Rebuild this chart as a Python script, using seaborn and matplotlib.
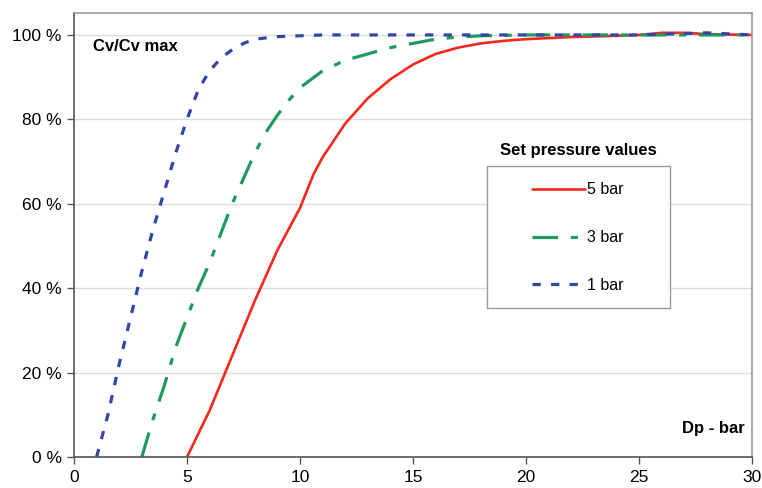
import numpy as np
import pandas as pd
import matplotlib
matplotlib.use('Agg')
import matplotlib.pyplot as plt
import seaborn as sns
from matplotlib.patches import Rectangle
from matplotlib.ticker import FuncFormatter

# Cv/Cv max (%) versus differential pressure Dp (bar)
dp_5bar = [5, 6, 7, 8, 9, 10, 10.3, 10.6, 11, 11.5, 12, 13, 14, 15, 16, 17, 18, 19, 20, 22, 24, 25, 26, 27, 28, 30]
cv_5bar = [0, 11, 24, 37, 49, 59, 63, 67, 71, 75, 79, 85, 89.5, 93, 95.5, 97, 98, 98.6, 99, 99.5, 99.8, 100, 100.5, 100.5, 100.2, 100]

dp_3bar = [3, 3.5, 4, 4.5, 5, 5.5, 6, 6.5, 7, 7.5, 8, 8.5, 9, 9.5, 10, 11, 12, 13, 14, 15, 16, 17, 18, 20, 25, 30]
cv_3bar = [0, 9, 17, 26, 33, 40, 46, 53, 60, 66, 72, 77, 81, 84.5, 87.5, 91.5, 94, 95.5, 97, 98, 99, 99.5, 99.8, 100, 100, 100]

dp_1bar = [1, 1.5, 2, 2.5, 3, 3.5, 4, 4.5, 5, 5.5, 6, 6.5, 7, 7.5, 8, 9, 10, 11, 15, 20, 25, 28, 30]
cv_1bar = [0, 10, 22, 33, 44, 54, 63, 72, 80, 87, 91.5, 94.5, 96.5, 98, 99, 99.6, 99.8, 100, 100, 100, 100, 100.5, 100]

series_labels = ['5 bar', '3 bar', '1 bar']
x_ticks = [0, 5, 10, 15, 20, 25, 30]
y_ticks = [0, 20, 40, 60, 80, 100]

sns.set_style('white')
plt.rcParams['font.family'] = ['Liberation Sans', 'DejaVu Sans']
plt.rcParams['text.color'] = 'black'

fig = plt.figure(figsize=(7.62, 4.88), dpi=100)
ax = fig.add_axes([74 / 762, 31 / 488, 678 / 762, 444 / 488])

styles = {
    '5 bar': dict(color='#F5281C', linestyle='-', lw=1.9),
    '3 bar': dict(color='#1F9A5E', dashes=(8, 4, 2.2, 4), lw=2.3),
    '1 bar': dict(color='#3345A5', dashes=(2.6, 3.2), lw=2.3),
}
for label, xs, ys in zip(series_labels, [dp_5bar, dp_3bar, dp_1bar], [cv_5bar, cv_3bar, cv_1bar]):
    df = pd.DataFrame({'Dp': xs, 'Cv': ys})
    sns.lineplot(data=df, x='Dp', y='Cv', ax=ax, label=label, **styles[label])

ax.set_xlim(0, 30)
ax.set_ylim(0, 105.2)
ax.set_xticks(x_ticks)
ax.set_yticks(y_ticks)
ax.yaxis.set_major_formatter(FuncFormatter(lambda v, p: f'{v:.0f} %'))
ax.set_xlabel('')
ax.set_ylabel('')
ax.grid(axis='y', color='#DDDDDD', lw=1)
ax.tick_params(axis='both', labelsize=12.5, direction='out', length=5, width=1,
               color='#555555', labelcolor='black', left=True, bottom=True, pad=4)

for side in ['left', 'bottom']:
    ax.spines[side].set_color('#555555')
    ax.spines[side].set_linewidth(1.2)
for side in ['top', 'right']:
    ax.spines[side].set_color('#999999')
    ax.spines[side].set_linewidth(1.2)

ax.text(0.028, 0.925, 'Cv/Cv max', transform=ax.transAxes, fontsize=12,
        fontweight='bold', va='center', ha='left')
ax.text(0.99, 0.065, 'Dp - bar', transform=ax.transAxes, fontsize=12,
        fontweight='bold', va='center', ha='right')

# legend: box and title drawn separately, like the original
ax.get_legend().remove()
fig.patches.append(Rectangle((487 / 762, 1 - 308 / 488), 183 / 762, 142 / 488,
                             transform=fig.transFigure, facecolor='white',
                             edgecolor='#999999', lw=1, zorder=5))
fig.text(578 / 762, 1 - 150 / 488, 'Set pressure values', fontsize=12,
         fontweight='bold', ha='center', va='center')
handles, labels = ax.get_legend_handles_labels()
leg = fig.legend(handles, labels, loc='upper left',
                 bbox_to_anchor=(518 / 762, 1 - 168 / 488), frameon=False,
                 fontsize=11.5, handlelength=3.3, handletextpad=0.15,
                 labelspacing=2.05)
leg.set_zorder(6)

fig.savefig('out.png', dpi=100)
